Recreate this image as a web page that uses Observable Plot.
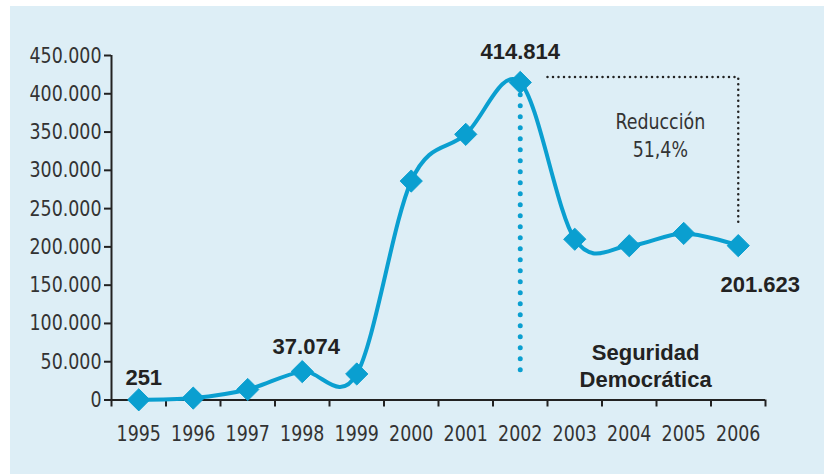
<!DOCTYPE html>
<html><head><meta charset="utf-8">
<script src="https://cdn.jsdelivr.net/npm/d3@7"></script>
<script src="https://cdn.jsdelivr.net/npm/@observablehq/plot@0.6"></script>
<style>
html,body{margin:0;padding:0;background:#fff;}
#chart{position:absolute;left:10px;top:6px;}
</style></head><body><div id="chart"></div>
<script>
const years = [1995, 1996, 1997, 1998, 1999, 2000, 2001, 2002, 2003, 2004, 2005, 2006];
const values = [251, 2500, 13700, 37074, 34000, 286000, 347000, 414814, 210000, 201500, 217600, 201623];
const yTicks = [0, 50000, 100000, 150000, 200000, 250000, 300000, 350000, 400000, 450000];
const bandEdges = [1994.5, 1995.5, 1996.5, 1997.5, 1998.5, 1999.5, 2000.5, 2001.5, 2002.5, 2003.5, 2004.5, 2005.5, 2006.5];
const reductionLines = ["Reducción", "51,4%"];
const policyText = "Seguridad\nDemocrática";
const bracketTop = 422000;
const bracketBottom = 226000;
const policyLineBottom = 39000;

const data = years.map((year, i) => ({year, value: values[i]}));
const fmt = d => d === 0 ? "0" : d3.format(",")(d).replace(/,/g, ".");
const blue = "#0a9fd0";
const narrow = "'Liberation Sans Narrow','DejaVu Sans Condensed',sans-serif";
const bold = "'Liberation Sans',Arial,sans-serif";

const chart = Plot.plot({
  width: 814,
  height: 468,
  marginLeft: 101,
  marginRight: 59,
  marginTop: 49,
  marginBottom: 74.5,
  style: {background: "#ddeef6", fontFamily: narrow, fontSize: "22px", color: "#333", overflow: "visible"},
  x: {domain: [1994.5, 2006.5], axis: null},
  y: {domain: [0, 450000], axis: null},
  marks: [
    Plot.axisY({ticks: yTicks, tickFormat: fmt, tickSize: 7, tickPadding: 3, label: null, fontSize: 22, fill: "#333", stroke: "#222", strokeWidth: 2}),
    Plot.axisX({ticks: bandEdges, tickFormat: () => "", tickSize: 7, label: null, stroke: "#222", strokeWidth: 2}),
    Plot.axisX({ticks: years, tickFormat: d => String(d), tickSize: 0, tickPadding: 25, label: null, fontSize: 22, fill: "#333"}),
    Plot.ruleX([1994.5], {y1: 0, y2: 450000, stroke: "#222", strokeWidth: 2}),
    Plot.ruleY([0], {x1: 1994.4, x2: 2006.5, stroke: "#222", strokeWidth: 2}),
    Plot.ruleX([2002], {y1: policyLineBottom, y2: 414814, stroke: blue, strokeWidth: 5, strokeDasharray: "0,11", strokeLinecap: "round"}),
    Plot.line([[2002.5, bracketTop], [2006, bracketTop], [2006, bracketBottom]], {x: d => d[0], y: d => d[1], stroke: "#222", strokeWidth: 2.5, strokeDasharray: "0,5.5", strokeLinecap: "round"}),
    Plot.line(data, {x: "year", y: "value", curve: "cardinal", tension: 0, stroke: blue, strokeWidth: 4}),
    Plot.dot(data, {x: "year", y: "value", symbol: "diamond2", r: 10, fill: blue, stroke: blue, strokeWidth: 1}),
    Plot.text([data[0]], {x: "year", y: "value", text: d => fmt(d.value), dx: 5, dy: -22, fontFamily: bold, fontWeight: "bold", fontSize: 22, fill: "#222"}),
    Plot.text([data[3]], {x: "year", y: "value", text: d => fmt(d.value), dx: 4, dy: -25, fontFamily: bold, fontWeight: "bold", fontSize: 22, fill: "#222"}),
    Plot.text([data[7]], {x: "year", y: "value", text: d => fmt(d.value), dx: 0, dy: -30, fontFamily: bold, fontWeight: "bold", fontSize: 22, fill: "#222"}),
    Plot.text([data[11]], {x: "year", y: "value", text: d => fmt(d.value), dx: 22, dy: 39, fontFamily: bold, fontWeight: "bold", fontSize: 22, fill: "#222"}),
    Plot.text([reductionLines[0]], {x: 2004.57, y: 363000, text: d => d, fontSize: 22, fill: "#333"}),
    Plot.text([reductionLines[1]], {x: 2004.57, y: 327000, text: d => d, fontSize: 22, fill: "#333"}),
    Plot.text([{x: 2004.3, y: 46000}], {x: "x", y: "y", text: () => policyText, lineHeight: 1.25, fontFamily: bold, fontWeight: "bold", fontSize: 22, fill: "#222", letterSpacing: "1px"})
  ]
});
document.getElementById("chart").appendChild(chart);

// condense the regular (non-bold) labels horizontally, like the original condensed typeface
const condense = 0.88;
const regular = new Set([...yTicks.map(fmt), ...years.map(String), ...reductionLines]);
chart.querySelectorAll("text").forEach(el => {
  if (el.querySelector("tspan") || !regular.has(el.textContent)) return;
  const len = el.getComputedTextLength();
  if (len > 0) {
    el.setAttribute("textLength", len * condense);
    el.setAttribute("lengthAdjust", "spacingAndGlyphs");
  }
});
</script></body></html>
